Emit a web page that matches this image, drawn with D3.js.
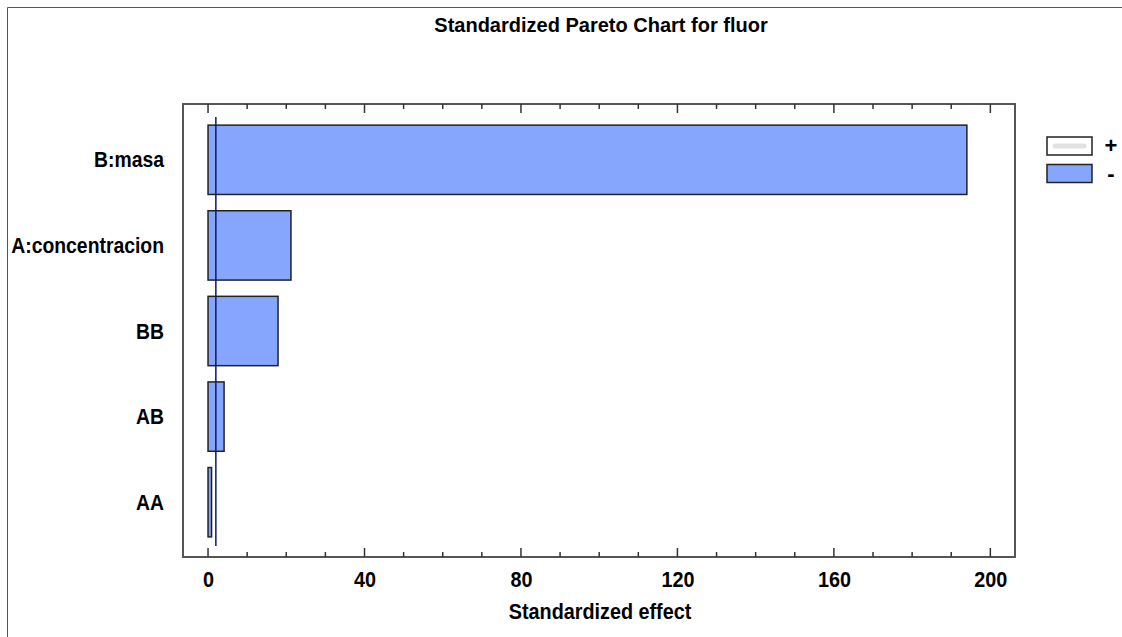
<!DOCTYPE html>
<html>
<head>
<meta charset="utf-8">
<script src="https://cdn.jsdelivr.net/npm/d3@7"></script>
<style>
  html, body { margin: 0; padding: 0; background: #fff; }
  svg { display: block; }
  text { font-family: "Liberation Sans Narrow", "Arial Narrow", "Liberation Sans", Arial, sans-serif; font-weight: bold; fill: #000; }
</style>
</head>
<body>
<svg id="chart" width="1122" height="637"></svg>
<script>
// Data
const categories = ["B:masa", "A:concentracion", "BB", "AB", "AA"];
const effects = [194.0, 21.2, 17.9, 4.1, 0.9];
const signs = ["-", "-", "-", "-", "-"];
const criticalValue = 2.0;
const xTicks = [0, 40, 80, 120, 160, 200];
const legendLabels = ["+", "-"];
const titleText = "Standardized Pareto Chart for fluor";
const xTitle = "Standardized effect";

const svg = d3.select("#chart");
const W = 1122, H = 637;
const plot = { left: 183, right: 1015, top: 104, bottom: 557 };
const blue = "#86a6fd";

// helper: horizontally condensed text
function ctext(g, tx, ty, str, size, sx, anchor) {
  return g.append("text")
    .attr("transform", `translate(${tx},${ty}) scale(${sx},1)`)
    .attr("text-anchor", anchor || "start")
    .style("font-size", size + "px")
    .text(str);
}

// outer frame (left and top edges only visible)
svg.append("path").attr("d", `M7.5,${H} V7.5 H${W}`)
  .attr("fill", "none").attr("stroke", "#555").attr("stroke-width", 1);

const x = d3.scaleLinear().domain([-6.4, 206.3]).range([plot.left, plot.right]);
const y = d3.scaleBand().domain(categories).range([117, 545]).paddingInner(0.19).paddingOuter(0.095);

// title
ctext(svg, 601, 32, titleText, 20, 1, "middle");

// plot frame
svg.append("rect").attr("x", plot.left).attr("y", plot.top)
  .attr("width", plot.right - plot.left).attr("height", plot.bottom - plot.top)
  .attr("fill", "none").attr("stroke", "#555").attr("stroke-width", 2);

// ticks (major + minor) on top and bottom, inward
const minor = d3.range(0, 206, 10);
const gTicks = svg.append("g");
minor.forEach(v => {
  const isMajor = v % 40 === 0;
  const len = isMajor ? 9 : 5;
  gTicks.append("line").attr("x1", x(v)).attr("x2", x(v))
    .attr("y1", plot.bottom).attr("y2", plot.bottom - len)
    .attr("stroke", "#333").attr("stroke-width", 1.5);
  gTicks.append("line").attr("x1", x(v)).attr("x2", x(v))
    .attr("y1", plot.top).attr("y2", plot.top + len)
    .attr("stroke", "#333").attr("stroke-width", 1.5);
});

// bottom axis labels via d3 axis
const axis = d3.axisBottom(x).tickValues(xTicks).tickSize(0).tickPadding(0).tickFormat(d3.format("d"));
const gAxis = svg.append("g").attr("transform", `translate(0,${plot.bottom})`).call(axis);
gAxis.select(".domain").remove();
gAxis.attr("font-family", null).attr("font-size", null);
gAxis.selectAll("text").attr("dy", null).attr("y", null)
  .attr("transform", "translate(0,30) scale(0.9,1)")
  .style("font-size", "22px").style("font-weight", "bold").attr("fill", "#000");

// x title
ctext(svg, 600, 619, xTitle, 22, 0.9, "middle");

// category labels
const gLab = svg.append("g");
categories.forEach(d => {
  ctext(gLab, 164, y(d) + y.bandwidth() / 2 + 7.5, d, 22, 0.88, "end");
});

// bars
svg.append("g").selectAll("rect").data(categories).join("rect")
  .attr("x", x(0)).attr("y", d => y(d))
  .attr("width", (d, i) => x(effects[i]) - x(0))
  .attr("height", y.bandwidth())
  .attr("fill", (d, i) => signs[i] === "+" ? "#fff" : blue)
  .attr("stroke", "#222").attr("stroke-width", 1.5);

// critical value line
svg.append("line").attr("x1", x(criticalValue)).attr("x2", x(criticalValue))
  .attr("y1", 117).attr("y2", 546).attr("stroke", "#0a1a6e").attr("stroke-width", 1.5);

// legend
const lg = svg.append("g");
legendLabels.forEach((lab, i) => {
  const yy = 137 + i * 27.5;
  lg.append("rect").attr("x", 1047).attr("y", yy).attr("width", 45).attr("height", 18)
    .attr("fill", lab === "+" ? "#fff" : blue).attr("stroke", "#222").attr("stroke-width", 1.5);
  if (lab === "+") {
    lg.append("line").attr("x1", 1055).attr("x2", 1084).attr("y1", yy + 9).attr("y2", yy + 9)
      .attr("stroke", "#e2e2e2").attr("stroke-width", 5).attr("stroke-linecap", "round");
  }
  ctext(lg, 1111, yy + 16, lab, 22, 1, "middle");
});
</script>
</body>
</html>
